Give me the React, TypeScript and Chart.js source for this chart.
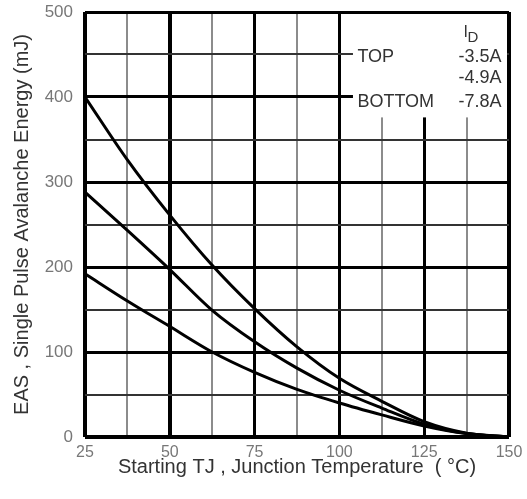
import React, { useEffect, useRef } from "react";
import { Chart, registerables } from "chart.js";

Chart.register(...registerables);

// Starting junction temperature (°C)
const tempC = [25, 37.5, 50, 62.5, 75, 87.5, 100, 112.5, 125, 137.5, 150];
// EAS (mJ) for each ID
const easTop = [400, 326, 261, 202, 151, 106, 69, 42, 18, 4.5, 0]; // -3.5A
const easMid = [288, 243, 197, 149, 112, 81, 55, 34, 15, 4, 0]; // -4.9A
const easBottom = [192, 160, 130, 100, 76, 56, 40, 26, 13, 4, 0]; // -7.8A

const xTickLabels = [25, 50, 75, 100, 125, 150];
const yTickLabels = [0, 100, 200, 300, 400, 500];

const legendLabels = ["TOP", "", "BOTTOM"];
const legendCurrents = ["-3.5A", "-4.9A", "-7.8A"];

const FONT = "'Liberation Sans', Arial, sans-serif";

const legendPlugin = {
  id: "legendBox",
  beforeDatasetsDraw(chart: any) {
    const { ctx, scales } = chart;
    const xs = scales.x;
    const ys = scales.y;
    const x0 = xs.getPixelForValue(104);
    const x1 = xs.getPixelForValue(150) - 2;
    const y0 = ys.getPixelForValue(500) + 2;
    const y1 = ys.getPixelForValue(376);
    ctx.save();
    ctx.fillStyle = "#ffffff";
    ctx.fillRect(x0, y0, x1 - x0, y1 - y0);
    ctx.restore();
  },
  afterDraw(chart: any) {
    const { ctx, scales } = chart;
    const xs = scales.x;
    const ys = scales.y;
    const leftX = xs.getPixelForValue(105.3);
    const rightX = xs.getPixelForValue(147.8);
    const topY = ys.getPixelForValue(500);
    ctx.save();
    ctx.fillStyle = "#333333";
    ctx.textBaseline = "alphabetic";
    // I_D header
    ctx.font = `16px ${FONT}`;
    ctx.textAlign = "left";
    const ix = rightX - 38;
    ctx.fillText("I", ix, topY + 25);
    ctx.font = `15px ${FONT}`;
    ctx.fillText("D", ix + 4, topY + 30);
    ctx.font = `18px ${FONT}`;
    const rows = [topY + 50, topY + 71, topY + 95];
    legendLabels.forEach((lab, i) => {
      if (lab) {
        ctx.textAlign = "left";
        ctx.fillText(lab, leftX, rows[i]);
      }
      ctx.textAlign = "right";
      ctx.fillText(legendCurrents[i], rightX, rows[i]);
    });
    ctx.restore();
  },
};

export default function App() {
  const canvasRef = useRef<HTMLCanvasElement | null>(null);

  useEffect(() => {
    if (!canvasRef.current) return;
    const mk = (ys: number[]) => tempC.map((t, i) => ({ x: t, y: ys[i] }));
    const lineStyle = {
      borderColor: "#000000",
      borderWidth: 3,
      pointRadius: 0,
      fill: false,
      cubicInterpolationMode: "monotone" as const,
    };
    const chart = new Chart(canvasRef.current, {
      type: "line",
      data: {
        datasets: [
          { label: "-3.5A", data: mk(easTop), ...lineStyle },
          { label: "-4.9A", data: mk(easMid), ...lineStyle },
          { label: "-7.8A", data: mk(easBottom), ...lineStyle },
        ],
      },
      options: {
        responsive: false,
        animation: false,
        layout: { padding: { top: 12, right: 18, left: 0, bottom: 0 } },
        plugins: {
          legend: { display: false },
          tooltip: { enabled: false },
        },
        scales: {
          x: {
            type: "linear",
            min: 25,
            max: 150,
            afterFit: (s: any) => {
              s.height = 62;
              s.paddingLeft = 0;
              s.paddingRight = 0;
            },
            border: { display: false },
            grid: {
              drawTicks: false,
              lineWidth: (c: any) => {
                const v = c.tick ? c.tick.value : 0;
                if (v === 25 || v === 50 || v === 150) return 4;
                if (v % 25 === 0) return 3;
                return 2;
              },
              color: (c: any) => {
                const v = c.tick ? c.tick.value : 0;
                return v % 25 === 0 ? "#000000" : "#8c8c8c";
              },
            },
            ticks: {
              stepSize: 12.5,
              autoSkip: false,
              maxRotation: 0,
              padding: 6,
              color: "#777777",
              font: { family: FONT, size: 16 },
              callback: (v: any) =>
                xTickLabels.includes(Number(v)) ? String(v) : "",
            },
            title: {
              display: true,
              text: "Starting TJ , Junction Temperature  ( °C)",
              color: "#333333",
              font: { family: FONT, size: 20 },
              padding: { top: 0, bottom: 20 },
            },
          },
          y: {
            type: "linear",
            min: 0,
            max: 500,
            afterFit: (s: any) => {
              s.width = 85;
              s.paddingTop = 0;
              s.paddingBottom = 0;
            },
            border: { display: false },
            grid: {
              drawTicks: false,
              lineWidth: (c: any) => {
                const v = c.tick ? c.tick.value : 0;
                if (v === 0) return 4;
                if (v % 100 === 0) return 3;
                return 2;
              },
              color: (c: any) => {
                const v = c.tick ? c.tick.value : 0;
                return v % 100 === 0 ? "#000000" : "#333333";
              },
            },
            ticks: {
              stepSize: 50,
              autoSkip: false,
              padding: 12,
              color: "#777777",
              font: { family: FONT, size: 17 },
              callback: (v: any) =>
                yTickLabels.includes(Number(v)) ? String(v) : "",
            },
            title: {
              display: true,
              text: "EAS , Single Pulse Avalanche Energy (mJ)",
              color: "#333333",
              font: { family: FONT, size: 20 },
              padding: { top: 10, bottom: 0 },
            },
          },
        },
      },
      plugins: [legendPlugin],
    });
    return () => chart.destroy();
  }, []);

  return (
    <div
      style={{
        position: "absolute",
        left: 0,
        top: 0,
        width: 527,
        height: 499,
        background: "#ffffff",
      }}
    >
      <canvas ref={canvasRef} width={527} height={499} />
    </div>
  );
}
